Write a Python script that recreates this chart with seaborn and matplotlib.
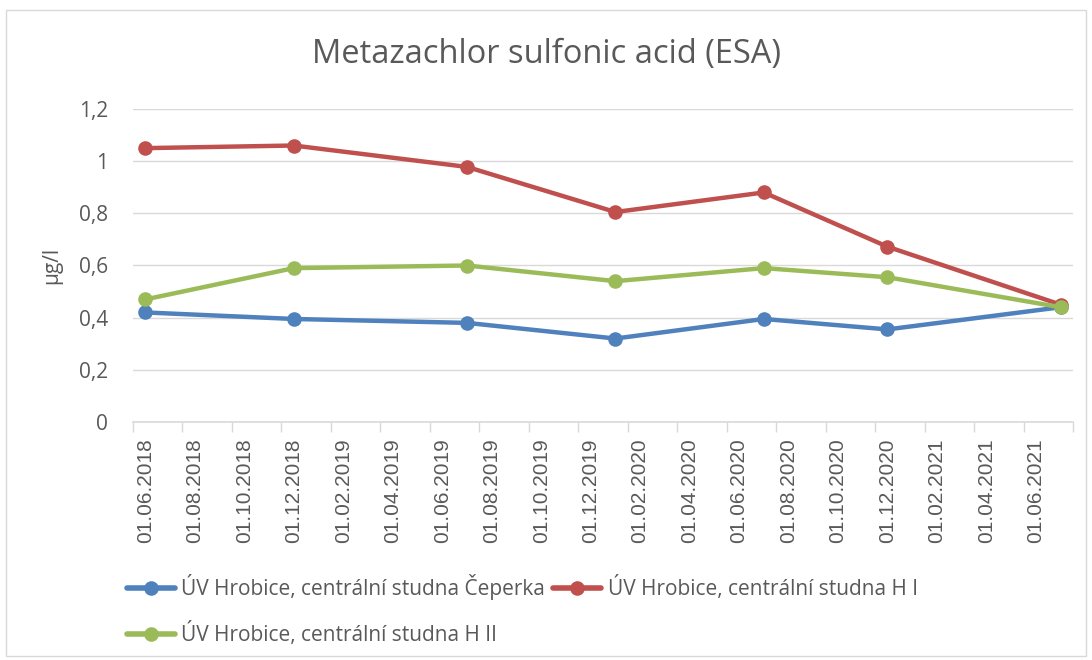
import matplotlib
matplotlib.use("Agg")
import matplotlib.pyplot as plt
import matplotlib.ticker as mticker
from matplotlib.lines import Line2D
from matplotlib.patches import Rectangle
import seaborn as sns
import pandas as pd

# data (monthly sampling, values in ug/l)
months = ["2018-06", "2018-12", "2019-07", "2020-01", "2020-07", "2020-12", "2021-07"]
ceperka = [0.42, 0.395, 0.38, 0.32, 0.395, 0.355, 0.44]
h_i = [1.05, 1.06, 0.978, 0.805, 0.88, 0.672, 0.45]
h_ii = [0.47, 0.59, 0.60, 0.54, 0.59, 0.555, 0.44]
series_names = [
    "ÚV Hrobice, centrální studna Čeperka",
    "ÚV Hrobice, centrální studna H I",
    "ÚV Hrobice, centrální studna H II",
]
colors = ["#4f81bd", "#c0504d", "#9bbb59"]
axis_start = "2018-06"
axis_months = 38  # 06/2018 .. 07/2021

start = pd.Period(axis_start, "M")
pos = [(pd.Period(m, "M") - start).n + 0.5 for m in months]
df = pd.concat([
    pd.DataFrame({"pos": pos, "value": vals, "series": name})
    for name, vals in zip(series_names, [ceperka, h_i, h_ii])
])

sns.set_theme(style="white")
plt.rcParams["font.family"] = ["Open Sans", "DejaVu Sans"]
gray = "#595959"
grid = "#d9d9d9"

fig = plt.figure(figsize=(10.92, 6.6), dpi=100)
ax = fig.add_axes([133 / 1092, 1 - 422 / 660, 940 / 1092, 313 / 660])

sns.lineplot(data=df, x="pos", y="value", hue="series", palette=colors,
             marker="o", markersize=10.5, markeredgewidth=0, linewidth=3.2,
             ax=ax, legend=False)

ax.set_xlim(0, axis_months)
ax.set_ylim(0, 1.2)
ax.yaxis.set_major_locator(mticker.MultipleLocator(0.2))
ax.yaxis.set_major_formatter(mticker.FuncFormatter(lambda v, p: f"{v:.1f}".rstrip("0").rstrip(".").replace(".", ",")))
ax.grid(axis="y", color=grid, linewidth=1)
ax.set_axisbelow(True)

# month-based date axis: tick marks every 2 months, labels centred in the month slot
ax.set_xticks(range(0, axis_months + 1, 2))
ax.set_xticklabels([])
label_pos = list(range(0, axis_months, 2))
ax.set_xticks([p + 0.5 for p in label_pos], minor=True)
ax.set_xticklabels([(start + p).strftime("01.%m.%Y") for p in label_pos], minor=True,
                   rotation=90, fontsize=15, color=gray, family="Liberation Sans", va="top")
ax.tick_params(axis="x", which="major", length=7, width=1, color=grid, direction="out", bottom=True)
ax.tick_params(axis="x", which="minor", length=0, pad=12)
ax.tick_params(axis="y", length=0, pad=18, labelsize=15, labelcolor=gray)

for s in ["top", "right", "left"]:
    ax.spines[s].set_visible(False)
ax.spines["bottom"].set_color(grid)
ax.spines["bottom"].set_linewidth(1.2)

ax.set_xlabel("")
ax.set_ylabel("µg/l", fontsize=15, color=gray, labelpad=12)

fig.text(0.5, 1 - 55 / 660, "Metazachlor sulfonic acid (ESA)", ha="center", va="center",
         fontsize=23.5, color=gray)

handles = [Line2D([], [], color=c, linewidth=4, marker="o", markersize=10.5, markeredgewidth=0)
           for c in colors]
order = [0, 2, 1]
fig.legend([handles[i] for i in order], [series_names[i] for i in order],
           loc="upper left", bbox_to_anchor=(127 / 1092, 1 - 574 / 660), ncol=2,
           frameon=False, fontsize=15, labelcolor=gray, handlelength=2.3,
           handletextpad=0.3, columnspacing=0.4, labelspacing=1.05, borderpad=0, borderaxespad=0)

fig.add_artist(Rectangle((6 / 1092, 4 / 660), 1080 / 1092, 646 / 660, transform=fig.transFigure,
                         fill=False, edgecolor=grid, linewidth=1))

fig.savefig("out.png", dpi=100)
